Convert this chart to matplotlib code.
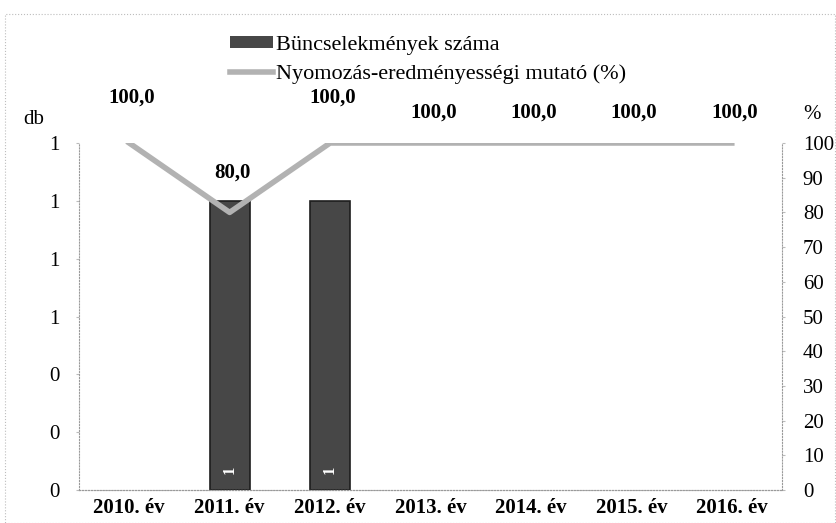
import numpy as np
import matplotlib
matplotlib.use("Agg")
import matplotlib.pyplot as plt
from matplotlib.patches import Rectangle
from matplotlib.ticker import FixedLocator, FuncFormatter

plt.rcParams['font.family'] = ['Liberation Serif', 'DejaVu Serif']

# -- data
years = ['2010. év', '2011. év', '2012. év', '2013. év', '2014. év', '2015. év', '2016. év']
crimes = [0, 1, 1, 0, 0, 0, 0]
rate = [100.0, 80.0, 100.0, 100.0, 100.0, 100.0, 100.0]
# data label height above the point (points)
rate_label_off = [33, 29, 33, 22, 22, 22, 22]

bar_color = '#474747'
line_color = '#b2b2b2'

fig = plt.figure(figsize=(8.36, 5.23), dpi=100)
ax = fig.add_axes([79 / 836, 1 - 490 / 523, (782 - 79) / 836, (490 - 143) / 523])
ax2 = ax.twinx()

x = np.arange(len(years))
edges = ['#1e1e1e' if v > 0 else 'none' for v in crimes]
bars = ax.bar(x, crimes, 0.4, color=bar_color, edgecolor=edges, linewidth=1.2, zorder=2)
for xi, v in zip(x, crimes):
    if v > 0:
        ax.text(xi, 0.07, str(v), color='white', fontsize=12, fontweight='bold',
                rotation=90, ha='center', va='center', zorder=4)

ax.set_xlim(-0.5, len(years) - 0.5)
ax.set_ylim(0, 1.2)
ax.yaxis.set_major_locator(FixedLocator(np.arange(0, 1.21, 0.2)))
ax.yaxis.set_major_formatter(FuncFormatter(lambda v, p: '%.0f' % (v + 1e-9)))
ax.set_xticks(x)
ax.set_xticklabels(years, fontsize=14, fontweight='bold')

line, = ax2.plot(x, rate, color=line_color, linewidth=4, zorder=3)
ax2.set_ylim(0, 100)
ax2.set_yticks(np.arange(0, 101, 10))
for xi, v, off in zip(x, rate, rate_label_off):
    ax2.annotate(('%.1f' % v).replace('.', ','), (xi, v), xytext=(2, off),
                 textcoords='offset points', ha='center', va='center',
                 fontsize=15, fontweight='bold')

for a in (ax, ax2):
    a.spines['top'].set_visible(False)
    for s in ('left', 'right', 'bottom'):
        a.spines[s].set_linestyle(':')
        a.spines[s].set_color('#9a9a9a')
        a.spines[s].set_linewidth(0.8)
    a.tick_params(labelsize=15, color='#bbbbbb', length=2)

ax.tick_params(axis='y', pad=12)
ax.tick_params(axis='x', length=0, pad=6)
ax2.tick_params(axis='y', pad=13)
ax2.spines['left'].set_visible(False)
ax.spines['right'].set_visible(False)

fig.text(23 / 836, 1 - 120 / 523, 'db', fontsize=15, ha='left', va='center')
fig.text(812 / 836, 1 - 114 / 523, '%', fontsize=15, ha='center', va='center')

fig.legend([bars, line], ['Büncselekmények száma', 'Nyomozás-eredményességi mutató (%)'],
           loc='upper left', bbox_to_anchor=(230 / 836, 1 - 36 / 523), frameon=False,
           fontsize=16, handlelength=1.95, handleheight=0.45, handletextpad=0.1,
           labelspacing=0.4, borderpad=0, borderaxespad=0)

fig.patches.append(Rectangle((5 / 836, 0), 1 - 6 / 836, 1 - 14 / 523, transform=fig.transFigure,
                             fill=False, linestyle=':', edgecolor='#bdbdbd', linewidth=0.8))

fig.savefig('out.png', dpi=100)
